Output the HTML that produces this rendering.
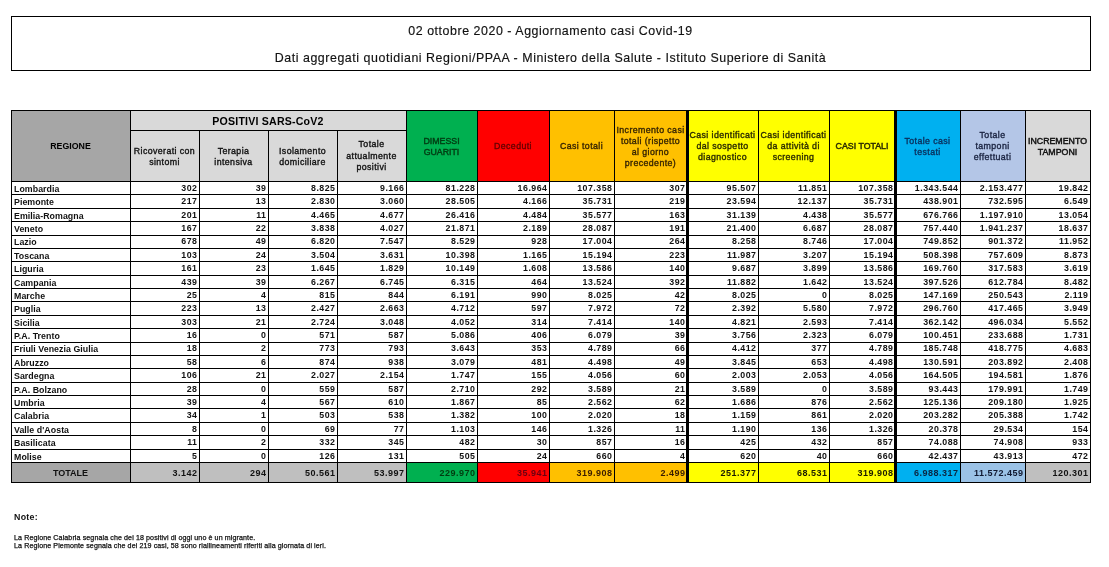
<!DOCTYPE html>
<html lang="it"><head><meta charset="utf-8"><title>Aggiornamento casi Covid-19</title>
<style>
html,body{margin:0;padding:0;background:#fff}
body{width:1109px;height:567px;position:relative;overflow:hidden;font-family:"Liberation Sans",sans-serif;color:#000}
div{position:absolute;box-sizing:border-box}
.ln{background:#000}
.tb{left:11px;top:16px;width:1080px;height:55px;border:1px solid #000}
.t1,.t2{left:0;width:1101px;text-align:center;white-space:nowrap;font-size:12.4px;letter-spacing:.55px;color:#111;-webkit-text-stroke:.15px #111}
.c{display:flex;align-items:center;justify-content:center;text-align:center;font-size:8.8px;line-height:10.85px;letter-spacing:.4px;white-space:nowrap;padding-top:1.6px;-webkit-text-stroke:.35px currentColor}
.s{line-height:11.3px}
.u{letter-spacing:0;-webkit-text-stroke:.45px currentColor}
.p2{padding-top:3.6px}
.p4{padding-top:2.6px}
.hb{-webkit-text-stroke:0;font-weight:bold;letter-spacing:0}
.l{justify-content:flex-start;text-align:left}
.d{font-weight:bold;font-size:8.8px;line-height:10px;white-space:nowrap;text-align:right;letter-spacing:.5px;color:#111}
.n{text-align:left;letter-spacing:.05px}
.tt{font-size:9px}
.nt{left:14px;white-space:nowrap;color:#111;-webkit-text-stroke:.25px #111}
</style></head><body>

<div class="tb"></div>
<div class="t1" style="top:24px">02 ottobre 2020 - Aggiornamento casi Covid-19</div>
<div class="t2" style="top:51px">Dati aggregati quotidiani Regioni/PPAA - Ministero della Salute - Istituto Superiore di Sanità</div>
<div class="c hb" style="left:11px;top:110px;width:119px;height:71px;background:#A6A6A6;color:#000">REGIONE</div>
<div class="c s p2" style="left:130px;top:130px;width:69px;height:51px;background:#D9D9D9;color:#111">Ricoverati con<br>sintomi</div>
<div class="c s p2" style="left:199px;top:130px;width:69px;height:51px;background:#D9D9D9;color:#111">Terapia<br>intensiva</div>
<div class="c s p2" style="left:268px;top:130px;width:69px;height:51px;background:#D9D9D9;color:#111">Isolamento<br>domiciliare</div>
<div class="c s" style="left:337px;top:130px;width:69px;height:51px;background:#D9D9D9;color:#111">Totale<br>attualmente<br>positivi</div>
<div class="c u p2" style="left:406px;top:110px;width:71px;height:71px;background:#00B050;color:#003f14">DIMESSI<br>GUARITI</div>
<div class="c h" style="left:477px;top:110px;width:72px;height:71px;background:#FF0000;color:#650000">Deceduti</div>
<div class="c h" style="left:549px;top:110px;width:65px;height:71px;background:#FFC000;color:#362400">Casi totali</div>
<div class="c h p4" style="left:614px;top:110px;width:73px;height:71px;background:#FFC000;color:#362400">Incremento casi<br>totali (rispetto<br>al giorno<br>precedente)</div>
<div class="c h" style="left:687px;top:110px;width:71px;height:71px;background:#FFFF00;color:#2a2a00">Casi identificati<br>dal sospetto<br>diagnostico</div>
<div class="c h" style="left:758px;top:110px;width:71px;height:71px;background:#FFFF00;color:#2a2a00">Casi identificati<br>da attività di<br>screening</div>
<div class="c u" style="left:829px;top:110px;width:66px;height:71px;background:#FFFF00;color:#2a2a00">CASI TOTALI</div>
<div class="c h p2" style="left:895px;top:110px;width:65px;height:71px;background:#00B0F0;color:#0a2f5c">Totale casi<br>testati</div>
<div class="c h" style="left:960px;top:110px;width:65px;height:71px;background:#B4C6E7;color:#1a2340">Totale<br>tamponi<br>effettuati</div>
<div class="c u p2" style="left:1025px;top:110px;width:65px;height:71px;background:#D9D9D9;color:#111">INCREMENTO<br>TAMPONI</div>
<div class="c hb" style="left:130px;top:110px;width:276px;height:20px;background:#D9D9D9;font-size:10.6px;letter-spacing:.2px;padding-top:2px">POSITIVI SARS-CoV2</div>
<div style="left:11px;top:462px;width:119px;height:20px;background:#A6A6A6"></div>
<div style="left:130px;top:462px;width:69px;height:20px;background:#BFBFBF"></div>
<div style="left:199px;top:462px;width:69px;height:20px;background:#BFBFBF"></div>
<div style="left:268px;top:462px;width:69px;height:20px;background:#BFBFBF"></div>
<div style="left:337px;top:462px;width:69px;height:20px;background:#BFBFBF"></div>
<div style="left:406px;top:462px;width:71px;height:20px;background:#00B050"></div>
<div style="left:477px;top:462px;width:72px;height:20px;background:#FF0000"></div>
<div style="left:549px;top:462px;width:65px;height:20px;background:#FFC000"></div>
<div style="left:614px;top:462px;width:73px;height:20px;background:#FFC000"></div>
<div style="left:687px;top:462px;width:71px;height:20px;background:#FFFF00"></div>
<div style="left:758px;top:462px;width:71px;height:20px;background:#FFFF00"></div>
<div style="left:829px;top:462px;width:66px;height:20px;background:#FFFF00"></div>
<div style="left:895px;top:462px;width:65px;height:20px;background:#00B0F0"></div>
<div style="left:960px;top:462px;width:65px;height:20px;background:#9BC2E6"></div>
<div style="left:1025px;top:462px;width:65px;height:20px;background:#BFBFBF"></div>
<div class="d n" style="left:14px;top:184px">Lombardia</div>
<div class="d" style="right:911.5px;top:183px">302</div>
<div class="d" style="right:842.5px;top:183px">39</div>
<div class="d" style="right:773.5px;top:183px">8.825</div>
<div class="d" style="right:704.5px;top:183px">9.166</div>
<div class="d" style="right:633.5px;top:183px">81.228</div>
<div class="d" style="right:561.5px;top:183px">16.964</div>
<div class="d" style="right:496.5px;top:183px">107.358</div>
<div class="d" style="right:423.5px;top:183px">307</div>
<div class="d" style="right:352.5px;top:183px">95.507</div>
<div class="d" style="right:281.5px;top:183px">11.851</div>
<div class="d" style="right:215.5px;top:183px">107.358</div>
<div class="d" style="right:150.5px;top:183px">1.343.544</div>
<div class="d" style="right:85.5px;top:183px">2.153.477</div>
<div class="d" style="right:20.5px;top:183px">19.842</div>
<div class="d n" style="left:14px;top:197px">Piemonte</div>
<div class="d" style="right:911.5px;top:196px">217</div>
<div class="d" style="right:842.5px;top:196px">13</div>
<div class="d" style="right:773.5px;top:196px">2.830</div>
<div class="d" style="right:704.5px;top:196px">3.060</div>
<div class="d" style="right:633.5px;top:196px">28.505</div>
<div class="d" style="right:561.5px;top:196px">4.166</div>
<div class="d" style="right:496.5px;top:196px">35.731</div>
<div class="d" style="right:423.5px;top:196px">219</div>
<div class="d" style="right:352.5px;top:196px">23.594</div>
<div class="d" style="right:281.5px;top:196px">12.137</div>
<div class="d" style="right:215.5px;top:196px">35.731</div>
<div class="d" style="right:150.5px;top:196px">438.901</div>
<div class="d" style="right:85.5px;top:196px">732.595</div>
<div class="d" style="right:20.5px;top:196px">6.549</div>
<div class="d n" style="left:14px;top:211px">Emilia-Romagna</div>
<div class="d" style="right:911.5px;top:210px">201</div>
<div class="d" style="right:842.5px;top:210px">11</div>
<div class="d" style="right:773.5px;top:210px">4.465</div>
<div class="d" style="right:704.5px;top:210px">4.677</div>
<div class="d" style="right:633.5px;top:210px">26.416</div>
<div class="d" style="right:561.5px;top:210px">4.484</div>
<div class="d" style="right:496.5px;top:210px">35.577</div>
<div class="d" style="right:423.5px;top:210px">163</div>
<div class="d" style="right:352.5px;top:210px">31.139</div>
<div class="d" style="right:281.5px;top:210px">4.438</div>
<div class="d" style="right:215.5px;top:210px">35.577</div>
<div class="d" style="right:150.5px;top:210px">676.766</div>
<div class="d" style="right:85.5px;top:210px">1.197.910</div>
<div class="d" style="right:20.5px;top:210px">13.054</div>
<div class="d n" style="left:14px;top:224px">Veneto</div>
<div class="d" style="right:911.5px;top:223px">167</div>
<div class="d" style="right:842.5px;top:223px">22</div>
<div class="d" style="right:773.5px;top:223px">3.838</div>
<div class="d" style="right:704.5px;top:223px">4.027</div>
<div class="d" style="right:633.5px;top:223px">21.871</div>
<div class="d" style="right:561.5px;top:223px">2.189</div>
<div class="d" style="right:496.5px;top:223px">28.087</div>
<div class="d" style="right:423.5px;top:223px">191</div>
<div class="d" style="right:352.5px;top:223px">21.400</div>
<div class="d" style="right:281.5px;top:223px">6.687</div>
<div class="d" style="right:215.5px;top:223px">28.087</div>
<div class="d" style="right:150.5px;top:223px">757.440</div>
<div class="d" style="right:85.5px;top:223px">1.941.237</div>
<div class="d" style="right:20.5px;top:223px">18.637</div>
<div class="d n" style="left:14px;top:237px">Lazio</div>
<div class="d" style="right:911.5px;top:236px">678</div>
<div class="d" style="right:842.5px;top:236px">49</div>
<div class="d" style="right:773.5px;top:236px">6.820</div>
<div class="d" style="right:704.5px;top:236px">7.547</div>
<div class="d" style="right:633.5px;top:236px">8.529</div>
<div class="d" style="right:561.5px;top:236px">928</div>
<div class="d" style="right:496.5px;top:236px">17.004</div>
<div class="d" style="right:423.5px;top:236px">264</div>
<div class="d" style="right:352.5px;top:236px">8.258</div>
<div class="d" style="right:281.5px;top:236px">8.746</div>
<div class="d" style="right:215.5px;top:236px">17.004</div>
<div class="d" style="right:150.5px;top:236px">749.852</div>
<div class="d" style="right:85.5px;top:236px">901.372</div>
<div class="d" style="right:20.5px;top:236px">11.952</div>
<div class="d n" style="left:14px;top:251px">Toscana</div>
<div class="d" style="right:911.5px;top:250px">103</div>
<div class="d" style="right:842.5px;top:250px">24</div>
<div class="d" style="right:773.5px;top:250px">3.504</div>
<div class="d" style="right:704.5px;top:250px">3.631</div>
<div class="d" style="right:633.5px;top:250px">10.398</div>
<div class="d" style="right:561.5px;top:250px">1.165</div>
<div class="d" style="right:496.5px;top:250px">15.194</div>
<div class="d" style="right:423.5px;top:250px">223</div>
<div class="d" style="right:352.5px;top:250px">11.987</div>
<div class="d" style="right:281.5px;top:250px">3.207</div>
<div class="d" style="right:215.5px;top:250px">15.194</div>
<div class="d" style="right:150.5px;top:250px">508.398</div>
<div class="d" style="right:85.5px;top:250px">757.609</div>
<div class="d" style="right:20.5px;top:250px">8.873</div>
<div class="d n" style="left:14px;top:264px">Liguria</div>
<div class="d" style="right:911.5px;top:263px">161</div>
<div class="d" style="right:842.5px;top:263px">23</div>
<div class="d" style="right:773.5px;top:263px">1.645</div>
<div class="d" style="right:704.5px;top:263px">1.829</div>
<div class="d" style="right:633.5px;top:263px">10.149</div>
<div class="d" style="right:561.5px;top:263px">1.608</div>
<div class="d" style="right:496.5px;top:263px">13.586</div>
<div class="d" style="right:423.5px;top:263px">140</div>
<div class="d" style="right:352.5px;top:263px">9.687</div>
<div class="d" style="right:281.5px;top:263px">3.899</div>
<div class="d" style="right:215.5px;top:263px">13.586</div>
<div class="d" style="right:150.5px;top:263px">169.760</div>
<div class="d" style="right:85.5px;top:263px">317.583</div>
<div class="d" style="right:20.5px;top:263px">3.619</div>
<div class="d n" style="left:14px;top:278px">Campania</div>
<div class="d" style="right:911.5px;top:277px">439</div>
<div class="d" style="right:842.5px;top:277px">39</div>
<div class="d" style="right:773.5px;top:277px">6.267</div>
<div class="d" style="right:704.5px;top:277px">6.745</div>
<div class="d" style="right:633.5px;top:277px">6.315</div>
<div class="d" style="right:561.5px;top:277px">464</div>
<div class="d" style="right:496.5px;top:277px">13.524</div>
<div class="d" style="right:423.5px;top:277px">392</div>
<div class="d" style="right:352.5px;top:277px">11.882</div>
<div class="d" style="right:281.5px;top:277px">1.642</div>
<div class="d" style="right:215.5px;top:277px">13.524</div>
<div class="d" style="right:150.5px;top:277px">397.526</div>
<div class="d" style="right:85.5px;top:277px">612.784</div>
<div class="d" style="right:20.5px;top:277px">8.482</div>
<div class="d n" style="left:14px;top:291px">Marche</div>
<div class="d" style="right:911.5px;top:290px">25</div>
<div class="d" style="right:842.5px;top:290px">4</div>
<div class="d" style="right:773.5px;top:290px">815</div>
<div class="d" style="right:704.5px;top:290px">844</div>
<div class="d" style="right:633.5px;top:290px">6.191</div>
<div class="d" style="right:561.5px;top:290px">990</div>
<div class="d" style="right:496.5px;top:290px">8.025</div>
<div class="d" style="right:423.5px;top:290px">42</div>
<div class="d" style="right:352.5px;top:290px">8.025</div>
<div class="d" style="right:281.5px;top:290px">0</div>
<div class="d" style="right:215.5px;top:290px">8.025</div>
<div class="d" style="right:150.5px;top:290px">147.169</div>
<div class="d" style="right:85.5px;top:290px">250.543</div>
<div class="d" style="right:20.5px;top:290px">2.119</div>
<div class="d n" style="left:14px;top:304px">Puglia</div>
<div class="d" style="right:911.5px;top:303px">223</div>
<div class="d" style="right:842.5px;top:303px">13</div>
<div class="d" style="right:773.5px;top:303px">2.427</div>
<div class="d" style="right:704.5px;top:303px">2.663</div>
<div class="d" style="right:633.5px;top:303px">4.712</div>
<div class="d" style="right:561.5px;top:303px">597</div>
<div class="d" style="right:496.5px;top:303px">7.972</div>
<div class="d" style="right:423.5px;top:303px">72</div>
<div class="d" style="right:352.5px;top:303px">2.392</div>
<div class="d" style="right:281.5px;top:303px">5.580</div>
<div class="d" style="right:215.5px;top:303px">7.972</div>
<div class="d" style="right:150.5px;top:303px">296.760</div>
<div class="d" style="right:85.5px;top:303px">417.465</div>
<div class="d" style="right:20.5px;top:303px">3.949</div>
<div class="d n" style="left:14px;top:318px">Sicilia</div>
<div class="d" style="right:911.5px;top:317px">303</div>
<div class="d" style="right:842.5px;top:317px">21</div>
<div class="d" style="right:773.5px;top:317px">2.724</div>
<div class="d" style="right:704.5px;top:317px">3.048</div>
<div class="d" style="right:633.5px;top:317px">4.052</div>
<div class="d" style="right:561.5px;top:317px">314</div>
<div class="d" style="right:496.5px;top:317px">7.414</div>
<div class="d" style="right:423.5px;top:317px">140</div>
<div class="d" style="right:352.5px;top:317px">4.821</div>
<div class="d" style="right:281.5px;top:317px">2.593</div>
<div class="d" style="right:215.5px;top:317px">7.414</div>
<div class="d" style="right:150.5px;top:317px">362.142</div>
<div class="d" style="right:85.5px;top:317px">496.034</div>
<div class="d" style="right:20.5px;top:317px">5.552</div>
<div class="d n" style="left:14px;top:331px">P.A. Trento</div>
<div class="d" style="right:911.5px;top:330px">16</div>
<div class="d" style="right:842.5px;top:330px">0</div>
<div class="d" style="right:773.5px;top:330px">571</div>
<div class="d" style="right:704.5px;top:330px">587</div>
<div class="d" style="right:633.5px;top:330px">5.086</div>
<div class="d" style="right:561.5px;top:330px">406</div>
<div class="d" style="right:496.5px;top:330px">6.079</div>
<div class="d" style="right:423.5px;top:330px">39</div>
<div class="d" style="right:352.5px;top:330px">3.756</div>
<div class="d" style="right:281.5px;top:330px">2.323</div>
<div class="d" style="right:215.5px;top:330px">6.079</div>
<div class="d" style="right:150.5px;top:330px">100.451</div>
<div class="d" style="right:85.5px;top:330px">233.688</div>
<div class="d" style="right:20.5px;top:330px">1.731</div>
<div class="d n" style="left:14px;top:344px">Friuli Venezia Giulia</div>
<div class="d" style="right:911.5px;top:343px">18</div>
<div class="d" style="right:842.5px;top:343px">2</div>
<div class="d" style="right:773.5px;top:343px">773</div>
<div class="d" style="right:704.5px;top:343px">793</div>
<div class="d" style="right:633.5px;top:343px">3.643</div>
<div class="d" style="right:561.5px;top:343px">353</div>
<div class="d" style="right:496.5px;top:343px">4.789</div>
<div class="d" style="right:423.5px;top:343px">66</div>
<div class="d" style="right:352.5px;top:343px">4.412</div>
<div class="d" style="right:281.5px;top:343px">377</div>
<div class="d" style="right:215.5px;top:343px">4.789</div>
<div class="d" style="right:150.5px;top:343px">185.748</div>
<div class="d" style="right:85.5px;top:343px">418.775</div>
<div class="d" style="right:20.5px;top:343px">4.683</div>
<div class="d n" style="left:14px;top:358px">Abruzzo</div>
<div class="d" style="right:911.5px;top:357px">58</div>
<div class="d" style="right:842.5px;top:357px">6</div>
<div class="d" style="right:773.5px;top:357px">874</div>
<div class="d" style="right:704.5px;top:357px">938</div>
<div class="d" style="right:633.5px;top:357px">3.079</div>
<div class="d" style="right:561.5px;top:357px">481</div>
<div class="d" style="right:496.5px;top:357px">4.498</div>
<div class="d" style="right:423.5px;top:357px">49</div>
<div class="d" style="right:352.5px;top:357px">3.845</div>
<div class="d" style="right:281.5px;top:357px">653</div>
<div class="d" style="right:215.5px;top:357px">4.498</div>
<div class="d" style="right:150.5px;top:357px">130.591</div>
<div class="d" style="right:85.5px;top:357px">203.892</div>
<div class="d" style="right:20.5px;top:357px">2.408</div>
<div class="d n" style="left:14px;top:371px">Sardegna</div>
<div class="d" style="right:911.5px;top:370px">106</div>
<div class="d" style="right:842.5px;top:370px">21</div>
<div class="d" style="right:773.5px;top:370px">2.027</div>
<div class="d" style="right:704.5px;top:370px">2.154</div>
<div class="d" style="right:633.5px;top:370px">1.747</div>
<div class="d" style="right:561.5px;top:370px">155</div>
<div class="d" style="right:496.5px;top:370px">4.056</div>
<div class="d" style="right:423.5px;top:370px">60</div>
<div class="d" style="right:352.5px;top:370px">2.003</div>
<div class="d" style="right:281.5px;top:370px">2.053</div>
<div class="d" style="right:215.5px;top:370px">4.056</div>
<div class="d" style="right:150.5px;top:370px">164.505</div>
<div class="d" style="right:85.5px;top:370px">194.581</div>
<div class="d" style="right:20.5px;top:370px">1.876</div>
<div class="d n" style="left:14px;top:385px">P.A. Bolzano</div>
<div class="d" style="right:911.5px;top:384px">28</div>
<div class="d" style="right:842.5px;top:384px">0</div>
<div class="d" style="right:773.5px;top:384px">559</div>
<div class="d" style="right:704.5px;top:384px">587</div>
<div class="d" style="right:633.5px;top:384px">2.710</div>
<div class="d" style="right:561.5px;top:384px">292</div>
<div class="d" style="right:496.5px;top:384px">3.589</div>
<div class="d" style="right:423.5px;top:384px">21</div>
<div class="d" style="right:352.5px;top:384px">3.589</div>
<div class="d" style="right:281.5px;top:384px">0</div>
<div class="d" style="right:215.5px;top:384px">3.589</div>
<div class="d" style="right:150.5px;top:384px">93.443</div>
<div class="d" style="right:85.5px;top:384px">179.991</div>
<div class="d" style="right:20.5px;top:384px">1.749</div>
<div class="d n" style="left:14px;top:398px">Umbria</div>
<div class="d" style="right:911.5px;top:397px">39</div>
<div class="d" style="right:842.5px;top:397px">4</div>
<div class="d" style="right:773.5px;top:397px">567</div>
<div class="d" style="right:704.5px;top:397px">610</div>
<div class="d" style="right:633.5px;top:397px">1.867</div>
<div class="d" style="right:561.5px;top:397px">85</div>
<div class="d" style="right:496.5px;top:397px">2.562</div>
<div class="d" style="right:423.5px;top:397px">62</div>
<div class="d" style="right:352.5px;top:397px">1.686</div>
<div class="d" style="right:281.5px;top:397px">876</div>
<div class="d" style="right:215.5px;top:397px">2.562</div>
<div class="d" style="right:150.5px;top:397px">125.136</div>
<div class="d" style="right:85.5px;top:397px">209.180</div>
<div class="d" style="right:20.5px;top:397px">1.925</div>
<div class="d n" style="left:14px;top:411px">Calabria</div>
<div class="d" style="right:911.5px;top:410px">34</div>
<div class="d" style="right:842.5px;top:410px">1</div>
<div class="d" style="right:773.5px;top:410px">503</div>
<div class="d" style="right:704.5px;top:410px">538</div>
<div class="d" style="right:633.5px;top:410px">1.382</div>
<div class="d" style="right:561.5px;top:410px">100</div>
<div class="d" style="right:496.5px;top:410px">2.020</div>
<div class="d" style="right:423.5px;top:410px">18</div>
<div class="d" style="right:352.5px;top:410px">1.159</div>
<div class="d" style="right:281.5px;top:410px">861</div>
<div class="d" style="right:215.5px;top:410px">2.020</div>
<div class="d" style="right:150.5px;top:410px">203.282</div>
<div class="d" style="right:85.5px;top:410px">205.388</div>
<div class="d" style="right:20.5px;top:410px">1.742</div>
<div class="d n" style="left:14px;top:425px">Valle d'Aosta</div>
<div class="d" style="right:911.5px;top:424px">8</div>
<div class="d" style="right:842.5px;top:424px">0</div>
<div class="d" style="right:773.5px;top:424px">69</div>
<div class="d" style="right:704.5px;top:424px">77</div>
<div class="d" style="right:633.5px;top:424px">1.103</div>
<div class="d" style="right:561.5px;top:424px">146</div>
<div class="d" style="right:496.5px;top:424px">1.326</div>
<div class="d" style="right:423.5px;top:424px">11</div>
<div class="d" style="right:352.5px;top:424px">1.190</div>
<div class="d" style="right:281.5px;top:424px">136</div>
<div class="d" style="right:215.5px;top:424px">1.326</div>
<div class="d" style="right:150.5px;top:424px">20.378</div>
<div class="d" style="right:85.5px;top:424px">29.534</div>
<div class="d" style="right:20.5px;top:424px">154</div>
<div class="d n" style="left:14px;top:438px">Basilicata</div>
<div class="d" style="right:911.5px;top:437px">11</div>
<div class="d" style="right:842.5px;top:437px">2</div>
<div class="d" style="right:773.5px;top:437px">332</div>
<div class="d" style="right:704.5px;top:437px">345</div>
<div class="d" style="right:633.5px;top:437px">482</div>
<div class="d" style="right:561.5px;top:437px">30</div>
<div class="d" style="right:496.5px;top:437px">857</div>
<div class="d" style="right:423.5px;top:437px">16</div>
<div class="d" style="right:352.5px;top:437px">425</div>
<div class="d" style="right:281.5px;top:437px">432</div>
<div class="d" style="right:215.5px;top:437px">857</div>
<div class="d" style="right:150.5px;top:437px">74.088</div>
<div class="d" style="right:85.5px;top:437px">74.908</div>
<div class="d" style="right:20.5px;top:437px">933</div>
<div class="d n" style="left:14px;top:452px">Molise</div>
<div class="d" style="right:911.5px;top:451px">5</div>
<div class="d" style="right:842.5px;top:451px">0</div>
<div class="d" style="right:773.5px;top:451px">126</div>
<div class="d" style="right:704.5px;top:451px">131</div>
<div class="d" style="right:633.5px;top:451px">505</div>
<div class="d" style="right:561.5px;top:451px">24</div>
<div class="d" style="right:496.5px;top:451px">660</div>
<div class="d" style="right:423.5px;top:451px">4</div>
<div class="d" style="right:352.5px;top:451px">620</div>
<div class="d" style="right:281.5px;top:451px">40</div>
<div class="d" style="right:215.5px;top:451px">660</div>
<div class="d" style="right:150.5px;top:451px">42.437</div>
<div class="d" style="right:85.5px;top:451px">43.913</div>
<div class="d" style="right:20.5px;top:451px">472</div>
<div class="d tt" style="left:11px;width:119px;text-align:center;letter-spacing:0;top:468px">TOTALE</div>
<div class="d tt" style="right:911.5px;top:468px;color:#111">3.142</div>
<div class="d tt" style="right:842.5px;top:468px;color:#111">294</div>
<div class="d tt" style="right:773.5px;top:468px;color:#111">50.561</div>
<div class="d tt" style="right:704.5px;top:468px;color:#111">53.997</div>
<div class="d tt" style="right:633.5px;top:468px;color:#003d10">229.970</div>
<div class="d tt" style="right:561.5px;top:468px;color:#6b0010">35.941</div>
<div class="d tt" style="right:496.5px;top:468px;color:#3a1c00">319.908</div>
<div class="d tt" style="right:423.5px;top:468px;color:#3a1c00">2.499</div>
<div class="d tt" style="right:352.5px;top:468px;color:#1a1a00">251.377</div>
<div class="d tt" style="right:281.5px;top:468px;color:#1a1a00">68.531</div>
<div class="d tt" style="right:215.5px;top:468px;color:#1a1a00">319.908</div>
<div class="d tt" style="right:150.5px;top:468px;color:#0a2540">6.988.317</div>
<div class="d tt" style="right:85.5px;top:468px;color:#101830">11.572.459</div>
<div class="d tt" style="right:20.5px;top:468px;color:#111">120.301</div>
<div class="ln" style="left:11px;top:110px;width:1px;height:373px"></div>
<div class="ln" style="left:130px;top:110px;width:1px;height:373px"></div>
<div class="ln" style="left:199px;top:130px;width:1px;height:353px"></div>
<div class="ln" style="left:268px;top:130px;width:1px;height:353px"></div>
<div class="ln" style="left:337px;top:130px;width:1px;height:353px"></div>
<div class="ln" style="left:406px;top:110px;width:1px;height:373px"></div>
<div class="ln" style="left:477px;top:110px;width:1px;height:373px"></div>
<div class="ln" style="left:549px;top:110px;width:1px;height:373px"></div>
<div class="ln" style="left:614px;top:110px;width:1px;height:373px"></div>
<div class="ln" style="left:686px;top:110px;width:3px;height:373px"></div>
<div class="ln" style="left:758px;top:110px;width:1px;height:373px"></div>
<div class="ln" style="left:829px;top:110px;width:1px;height:373px"></div>
<div class="ln" style="left:894px;top:110px;width:3px;height:373px"></div>
<div class="ln" style="left:960px;top:110px;width:1px;height:373px"></div>
<div class="ln" style="left:1025px;top:110px;width:1px;height:373px"></div>
<div class="ln" style="left:1090px;top:110px;width:1px;height:373px"></div>
<div class="ln" style="left:11px;top:110px;width:1080px;height:1px"></div>
<div class="ln" style="left:130px;top:130px;width:277px;height:1px"></div>
<div class="ln" style="left:11px;top:181px;width:1080px;height:1px"></div>
<div class="ln" style="left:11px;top:194px;width:1080px;height:1px"></div>
<div class="ln" style="left:11px;top:208px;width:1080px;height:1px"></div>
<div class="ln" style="left:11px;top:221px;width:1080px;height:1px"></div>
<div class="ln" style="left:11px;top:235px;width:1080px;height:1px"></div>
<div class="ln" style="left:11px;top:248px;width:1080px;height:1px"></div>
<div class="ln" style="left:11px;top:261px;width:1080px;height:1px"></div>
<div class="ln" style="left:11px;top:275px;width:1080px;height:1px"></div>
<div class="ln" style="left:11px;top:288px;width:1080px;height:1px"></div>
<div class="ln" style="left:11px;top:301px;width:1080px;height:1px"></div>
<div class="ln" style="left:11px;top:315px;width:1080px;height:1px"></div>
<div class="ln" style="left:11px;top:328px;width:1080px;height:1px"></div>
<div class="ln" style="left:11px;top:342px;width:1080px;height:1px"></div>
<div class="ln" style="left:11px;top:355px;width:1080px;height:1px"></div>
<div class="ln" style="left:11px;top:368px;width:1080px;height:1px"></div>
<div class="ln" style="left:11px;top:382px;width:1080px;height:1px"></div>
<div class="ln" style="left:11px;top:395px;width:1080px;height:1px"></div>
<div class="ln" style="left:11px;top:408px;width:1080px;height:1px"></div>
<div class="ln" style="left:11px;top:422px;width:1080px;height:1px"></div>
<div class="ln" style="left:11px;top:435px;width:1080px;height:1px"></div>
<div class="ln" style="left:11px;top:449px;width:1080px;height:1px"></div>
<div class="ln" style="left:11px;top:462px;width:1080px;height:1px"></div>
<div class="ln" style="left:11px;top:482px;width:1080px;height:1px"></div>
<div class="nt" style="top:512px;font-size:8.8px;letter-spacing:.3px;font-weight:bold;-webkit-text-stroke:0">Note:</div>
<div class="nt" style="top:534px;font-size:7.1px;letter-spacing:.1px">La Regione Calabria segnala che dei 18 positivi di oggi uno è un migrante.</div>
<div class="nt" style="top:542px;font-size:7.1px;letter-spacing:.1px">La Regione Piemonte segnala che dei 219 casi, 58 sono riallineamenti riferiti alla giornata di ieri.</div>
</body></html>
